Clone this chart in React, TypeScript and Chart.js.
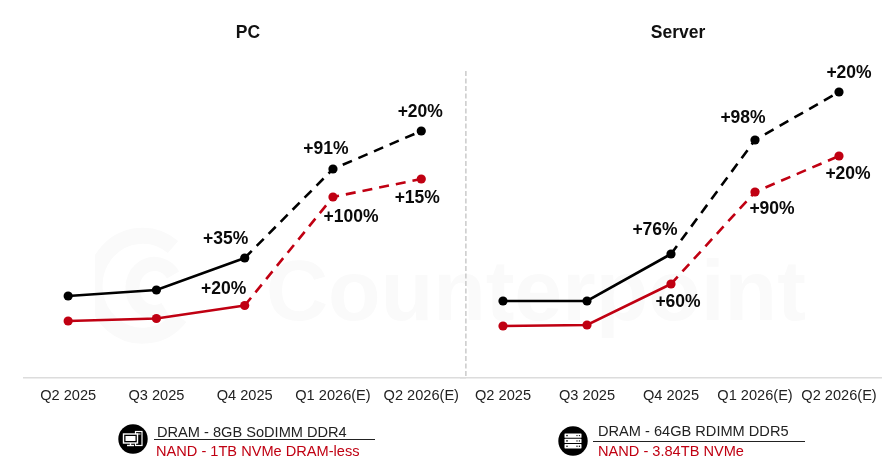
import React, { useEffect, useRef } from "react";
import { Chart, registerables } from "chart.js";

Chart.register(...registerables);

const categories = ["Q2 2025", "Q3 2025", "Q4 2025", "Q1 2026(E)", "Q2 2026(E)"];

const pcDram = [82, 88, 120, 209, 247];
const pcNand = [57, 59.5, 72.5, 181, 199];
const serverDram = [77, 77, 124, 238, 286];
const serverNand = [52, 53, 94, 186, 222];

const pcDramLabels = ["", "", "+35%", "+91%", "+20%"];
const pcNandLabels = ["", "", "+20%", "+100%", "+15%"];
const serverDramLabels = ["", "", "+76%", "+98%", "+20%"];
const serverNandLabels = ["", "", "+60%", "+90%", "+20%"];

const pcDramOffsets: [number, number][] = [[0, 0], [0, 0], [-19, -19], [-7, -20], [-1, -19]];
const pcNandOffsets: [number, number][] = [[0, 0], [0, 0], [-21, -16], [18, 20], [-4, 19]];
const serverDramOffsets: [number, number][] = [[0, 0], [0, 0], [-16, -24], [-12, -22], [10, -19]];
const serverNandOffsets: [number, number][] = [[0, 0], [0, 0], [7, 18], [17, 17], [9, 18]];

const BLACK = "#000000";
const RED = "#c00012";
const FONT = '"Liberation Sans", Arial, sans-serif';

const labelPlugin = {
  id: "changeLabels",
  afterDatasetsDraw(chart: any) {
    const { ctx } = chart;
    chart.data.datasets.forEach((ds: any, i: number) => {
      const meta = chart.getDatasetMeta(i);
      meta.data.forEach((pt: any, j: number) => {
        const text = ds.changeLabels[j];
        if (!text) return;
        const [dx, dy] = ds.labelOffsets[j];
        ctx.save();
        ctx.font = `bold 17.5px ${FONT}`;
        ctx.fillStyle = "#0a0a0a";
        ctx.textAlign = "center";
        ctx.textBaseline = "middle";
        ctx.fillText(text, pt.x + dx, pt.y + dy);
        ctx.restore();
      });
    });
  },
};

function dataset(values: number[], color: string, changeLabels: string[], labelOffsets: [number, number][], name: string) {
  return {
    label: name,
    data: values,
    changeLabels,
    labelOffsets,
    borderColor: color,
    backgroundColor: color,
    borderWidth: 2.6,
    pointRadius: 4.6,
    pointHoverRadius: 4.6,
    pointBackgroundColor: color,
    pointBorderColor: color,
    pointBorderWidth: 0,
    tension: 0,
    spanGaps: true,
    segment: {
      borderDash: (c: any) => (c.p0DataIndex >= 2 ? [10, 7] : undefined),
    },
  };
}

function makeChart(canvas: HTMLCanvasElement, datasets: any[], padLeft: number, padRight: number, extra: any[] = []) {
  return new Chart(canvas, {
    type: "line",
    data: { labels: categories, datasets },
    options: {
      animation: false,
      responsive: false,
      devicePixelRatio: 1,
      layout: { padding: { left: padLeft, right: padRight, top: 50, bottom: 0 } },
      plugins: {
        legend: { display: false },
        tooltip: { enabled: false },
        title: { display: false },
      },
      scales: {
        x: {
          offset: true,
          afterFit(scale: any) {
            scale.height = 88;
          },
          grid: { display: false, drawTicks: false, offset: false },
          border: { display: true, color: "#dcdcdc", width: 1.5 },
          ticks: {
            color: "#222222",
            font: { family: FONT, size: 14.6 },
            padding: 9,
            autoSkip: false,
            maxRotation: 0,
            minRotation: 0,
          },
        },
        y: { display: false, min: 0, max: 328 },
      },
    } as any,
    plugins: [labelPlugin, ...extra],
  });
}

const dividerPlugin = {
  id: "divider",
  afterDraw(chart: any) {
    const { ctx, chartArea } = chart;
    ctx.save();
    ctx.strokeStyle = "#bdbdbd";
    ctx.lineWidth = 1.2;
    ctx.setLineDash([5, 2.5]);
    ctx.beginPath();
    ctx.moveTo(chartArea.right + 0.5, 71);
    ctx.lineTo(chartArea.right + 0.5, chartArea.bottom);
    ctx.stroke();
    ctx.restore();
  },
};

const abs = (left: number, top: number): React.CSSProperties => ({
  position: "absolute",
  left,
  top,
  whiteSpace: "nowrap",
  fontFamily: FONT,
});

function PcIcon() {
  return (
    <svg style={{ position: "absolute", left: 118, top: 424 }} width={30} height={30} viewBox="0 0 30 30">
      <circle cx={15} cy={15} r={14.7} fill="#000" />
      <rect x={17.5} y={7.5} width={6.5} height={14} fill="none" stroke="#fff" strokeWidth={1.2} />
      <line x1={18.8} y1={10} x2={22.6} y2={10} stroke="#fff" strokeWidth={1} />
      <rect x={5.5} y={10} width={14} height={9} fill="#000" stroke="#fff" strokeWidth={1.4} />
      <rect x={7.5} y={12} width={10} height={5} fill="#fff" />
      <line x1={9} y1={21.5} x2={16} y2={21.5} stroke="#fff" strokeWidth={1.4} />
      <line x1={12.5} y1={19} x2={12.5} y2={21.5} stroke="#fff" strokeWidth={1.4} />
    </svg>
  );
}

function ServerIcon() {
  return (
    <svg style={{ position: "absolute", left: 558, top: 426 }} width={30} height={30} viewBox="0 0 30 30">
      <circle cx={15} cy={15} r={14.7} fill="#000" />
      {[7.5, 12.8, 18.1].map((y) => (
        <g key={y}>
          <rect x={6.5} y={y} width={17} height={4.3} rx={0.6} fill="#fff" />
          <circle cx={9} cy={y + 2.1} r={0.8} fill="#000" />
          <circle cx={19} cy={y + 2.1} r={0.7} fill="#000" />
          <circle cx={21.4} cy={y + 2.1} r={0.7} fill="#000" />
        </g>
      ))}
    </svg>
  );
}

const titleStyle = (cx: number): React.CSSProperties => ({
  ...abs(cx, 21.5),
  transform: "translateX(-50%)",
  fontSize: 17.5,
  fontWeight: 700,
  lineHeight: "20px",
  color: "#111",
});

export default function App() {
  const pcRef = useRef<HTMLCanvasElement>(null);
  const serverRef = useRef<HTMLCanvasElement>(null);

  useEffect(() => {
    const pc = makeChart(
      pcRef.current!,
      [
        dataset(pcDram, BLACK, pcDramLabels, pcDramOffsets, "DRAM - 8GB SoDIMM DDR4"),
        dataset(pcNand, RED, pcNandLabels, pcNandOffsets, "NAND - 1TB NVMe DRAM-less"),
      ],
      24,
      4,
      [dividerPlugin]
    );
    const server = makeChart(
      serverRef.current!,
      [
        dataset(serverDram, BLACK, serverDramLabels, serverDramOffsets, "DRAM - 64GB RDIMM DDR5"),
        dataset(serverNand, RED, serverNandLabels, serverNandOffsets, "NAND - 3.84TB NVMe"),
      ],
      10,
      9
    );
    return () => {
      pc.destroy();
      server.destroy();
    };
  }, []);

  return (
    <div style={{ position: "fixed", left: 0, top: 0, width: 890, height: 466, overflow: "hidden", background: "#fff" }}>
      <svg style={{ position: "absolute", left: 95, top: 225 }} width={110} height={120} viewBox="0 0 110 120">
        <path d="M78 22 A48 50 0 1 0 85 92" fill="none" stroke="#fafafa" strokeWidth={16} />
        <path d="M78 50 A22 24 0 1 0 70 84" fill="none" stroke="#fafafa" strokeWidth={14} />
      </svg>
      <div style={{ ...abs(266, 241), fontSize: 86, fontWeight: 700, lineHeight: "98px", color: "#fafafa" }}>Counterpoint</div>

      <canvas ref={serverRef} width={439} height={466} style={{ position: "absolute", left: 451, top: 0, display: "block" }} />
      <canvas ref={pcRef} width={470} height={466} style={{ position: "absolute", left: 0, top: 0, display: "block" }} />

      <div style={titleStyle(248)}>PC</div>
      <div style={titleStyle(678)}>Server</div>

      <PcIcon />
      <div style={{ ...abs(157, 423), fontSize: 14.6, lineHeight: "18px", color: "#222" }}>DRAM - 8GB SoDIMM DDR4</div>
      <div style={{ position: "absolute", left: 154, top: 438.5, width: 221, height: 1.4, background: "#222" }} />
      <div style={{ ...abs(156, 442), fontSize: 14.6, lineHeight: "18px", color: RED }}>NAND - 1TB NVMe DRAM-less</div>

      <ServerIcon />
      <div style={{ ...abs(598, 422), fontSize: 14.6, lineHeight: "18px", color: "#222" }}>DRAM - 64GB RDIMM DDR5</div>
      <div style={{ position: "absolute", left: 593, top: 440.5, width: 212, height: 1.4, background: "#222" }} />
      <div style={{ ...abs(598, 442), fontSize: 14.6, lineHeight: "18px", color: RED }}>NAND - 3.84TB NVMe</div>
    </div>
  );
}
